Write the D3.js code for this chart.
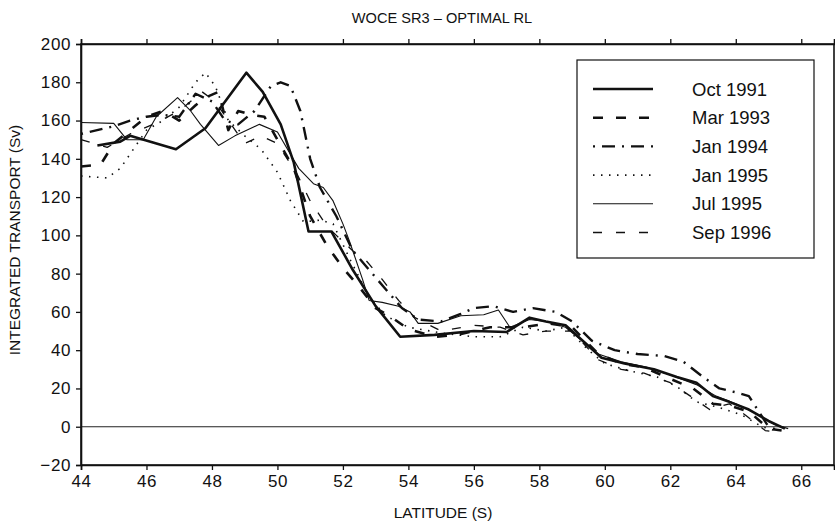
<!DOCTYPE html>
<html><head><meta charset="utf-8">
<script src="https://cdn.jsdelivr.net/npm/d3@7/dist/d3.min.js"></script>
<style>
html,body{margin:0;padding:0;background:#fff;}
svg{display:block;}
text{font-family:"Liberation Sans",Arial,Helvetica,sans-serif;fill:#111;}
</style></head>
<body>
<svg id="chart" width="835" height="526"></svg>
<script>
const title = "WOCE SR3 \u2013 OPTIMAL RL";
const xLabel = "LATITUDE (S)";
const yLabel = "INTEGRATED TRANSPORT (Sv)";
const xTicks = [44,46,48,50,52,54,56,58,60,62,64,66];
const yTicks = [-20,0,20,40,60,80,100,120,140,160,180,200];
const seriesNames = ["Oct 1991","Mar 1993","Jan 1994","Jan 1995","Jul 1995","Sep 1996"];

const oct1991Lat = [44.5,45.2,45.5,46.9,47.8,49.05,49.55,50.1,50.5,50.95,51.65,52.3,53.0,53.75,54.8,56.0,57.0,57.7,58.2,58.8,59.9,60.6,61.5,62.2,62.8,63.3,63.8,64.4,65.0,65.5];
const oct1991Val = [147,149,152,145,156,185,175,158,138,102,102,82,63,47,48,50,49.5,57,55,53,36,33,30,26,23,16,13,9,3,-1];

const mar1993Lat = [44.0,44.6,45.0,45.5,46.0,46.5,47.0,47.5,47.8,48.2,48.5,48.8,49.2,49.6,50.0,50.5,51.0,51.5,52.0,52.5,53.0,53.5,54.0,54.8,55.5,56.5,57.5,58.3,59.0,59.8,60.5,61.2,62.0,62.7,63.3,63.8,64.4,65.0,65.4];
const mar1993Val = [136,137,148,155,162,165,160,168,172,175,155,165,163,162,150,135,110,95,83,73,62,57,51,47,48,52,52,54,52,38,33,31,25,20,12,11,8,-1,-2];

const jan1994Lat = [44.0,45.0,45.5,46.0,46.5,47.0,47.5,48.0,48.4,48.8,49.3,49.8,50.1,50.4,50.7,51.0,51.3,51.8,52.3,52.8,53.3,53.8,54.3,55.0,55.6,56.0,56.6,57.2,57.8,58.5,59.0,59.6,60.3,61.0,61.8,62.4,63.0,63.5,64.0,64.4,65.0,65.3];
const jan1994Val = [153,157,160,162,163,162,174,170,160,158,165,178,180,178,165,140,125,110,92,82,72,62,56,55,59,62,63,60,62,60,55,45,40,38,37,34,26,20,18,16,0,-2];

const jan1995Lat = [44.0,44.8,45.2,45.6,46.0,46.5,47.0,47.5,47.8,48.1,48.5,49.0,49.5,50.0,50.4,50.8,51.3,51.7,52.2,52.8,53.3,54.0,55.0,56.0,56.8,57.5,58.2,58.8,59.5,60.0,60.8,61.6,62.2,62.8,63.5,64.2,64.8,65.2];
const jan1995Val = [131,130,135,145,155,160,167,180,185,178,160,152,145,133,118,107,108,106,88,68,58,52,49,47,47,52,50,52,40,33,29,26,21,13,10,6,0,-2];

const jul1995Lat = [44.0,45.0,45.4,45.9,46.3,46.95,47.35,47.65,48.2,48.7,49.45,50.0,50.65,51.1,51.4,51.7,52.0,52.2,52.6,52.8,53.2,53.7,54.05,54.3,54.9,55.6,56.3,56.75,57.1,57.7,58.2,58.8,59.8,60.5,61.3,62.0,62.8,63.4,64.0,64.6,65.2,65.6];
const jul1995Val = [159,158.5,150,150,162,172,165,158,147,152,158,154,135,127,125,118,106,97,77,66,65,63,60,54,54,58,58.5,61,52,56,55,52,38,34,31,27,22,16,12,7,1,-1];

const sep1996Lat = [44.0,44.8,45.5,46.2,47.0,47.7,48.1,48.5,49.0,49.5,50.0,50.6,51.0,51.5,51.8,52.3,52.7,53.2,53.7,54.2,55.0,56.0,56.8,57.5,58.2,59.0,59.8,60.5,61.2,62.0,62.7,63.2,63.8,64.3,64.9,65.3];
const sep1996Val = [150,146,153,158,165,175,170,160,148,152,148,132,118,105,100,92,87,77,66,57,50,53,52,48,50,50,35,30,28,23,15,9,12,6,-2,-3];

const seriesLat = [oct1991Lat,mar1993Lat,jan1994Lat,jan1995Lat,jul1995Lat,sep1996Lat];
const seriesVal = [oct1991Val,mar1993Val,jan1994Val,jan1995Val,jul1995Val,sep1996Val];

const styles = [
  {w:2.6, dash:null},
  {w:2.6, dash:"10,13"},
  {w:2.4, dash:"2,7,13,7"},
  {w:1.6, dash:"1.5,6.5"},
  {w:1.1, dash:null},
  {w:1.3, dash:"9,14"}
];

const svg = d3.select("#chart");
const L=81, R=834, T=44, B=465;
const x = d3.scaleLinear().domain([44,67]).range([L,R]);
const y = d3.scaleLinear().domain([-20,200]).range([B,T]);

// zero line
svg.append("line").attr("x1",L).attr("x2",R).attr("y1",y(0)).attr("y2",y(0))
  .attr("stroke","#222").attr("stroke-width",1.1);

// frame
svg.append("rect").attr("x",L).attr("y",T).attr("width",R-L).attr("height",B-T)
  .attr("fill","none").attr("stroke","#111").attr("stroke-width",1.6);

const fmt = d => d<0 ? "\u2212"+Math.abs(d) : String(d);

const gx = svg.append("g").attr("transform",`translate(0,${B})`)
  .call(d3.axisBottom(x).tickValues(xTicks).tickSize(5).tickPadding(5).tickFormat(d=>d));
const gt = svg.append("g").attr("transform",`translate(0,${T})`)
  .call(d3.axisTop(x).tickValues(xTicks).tickSize(5).tickFormat(""));
const gy = svg.append("g").attr("transform",`translate(${L},0)`)
  .call(d3.axisLeft(y).tickValues(yTicks).tickSize(5).tickPadding(5).tickFormat(fmt));
[gx,gt,gy].forEach(g=>{
  g.select(".domain").attr("stroke","#111").attr("stroke-width",1.6);
  g.selectAll(".tick line").attr("stroke","#111").attr("stroke-width",1.3);
  g.selectAll("text").attr("font-size",17).attr("fill","#111")
   .attr("font-family","'Liberation Sans',Arial,sans-serif");
});
gy.selectAll("text").attr("letter-spacing","0.6px");
gx.selectAll("text").attr("letter-spacing","0.6px");

// lines
const line = d3.line().x(d=>x(d[0])).y(d=>y(d[1]));
seriesLat.forEach((lats,i)=>{
  const pts = lats.map((la,j)=>[la,seriesVal[i][j]]);
  const p = svg.append("path").datum(pts).attr("d",line)
    .attr("fill","none").attr("stroke","#111").attr("stroke-width",styles[i].w)
    .attr("stroke-linejoin","round");
  if(styles[i].dash) p.attr("stroke-dasharray",styles[i].dash);
});

// title and labels
svg.append("text").attr("x",442).attr("y",23).attr("text-anchor","middle")
  .attr("font-size",14.6).text(title);
svg.append("text").attr("x",443).attr("y",518).attr("text-anchor","middle")
  .attr("font-size",15.5).text(xLabel);
svg.append("text").attr("transform","translate(20,240) rotate(-90)").attr("text-anchor","middle")
  .attr("font-size",15.5).text(yLabel);

// legend
const lg = svg.append("g");
lg.append("rect").attr("x",577).attr("y",60).attr("width",237).attr("height",198)
  .attr("fill","#fff").attr("stroke","#111").attr("stroke-width",1.2);
seriesNames.forEach((n,i)=>{
  const yy = 89 + i*28.7;
  const l = lg.append("line").attr("x1",593).attr("x2",653).attr("y1",yy).attr("y2",yy)
    .attr("stroke","#111").attr("stroke-width",styles[i].w);
  if(styles[i].dash) l.attr("stroke-dasharray",styles[i].dash);
  lg.append("text").attr("x",692).attr("y",yy+6.5).attr("font-size",18.5).text(n);
});
</script>
</body></html>
